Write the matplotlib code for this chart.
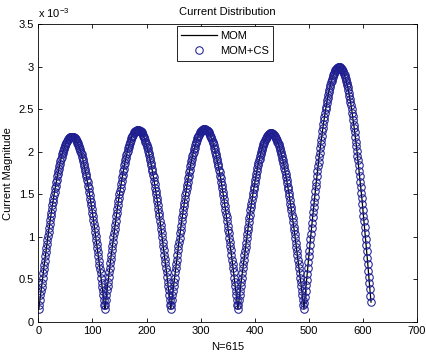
import numpy as np
import matplotlib
matplotlib.use('Agg')
import matplotlib.pyplot as plt
from matplotlib.ticker import FormatStrFormatter

plt.rcParams['font.family'] = ['Liberation Sans', 'DejaVu Sans']
plt.rcParams['mathtext.fontset'] = 'custom'
plt.rcParams['mathtext.rm'] = 'Liberation Sans'

# current magnitude (x 1e-3) per segment
arch1 = [0.15, 0.20, 0.25, 0.31, 0.36, 0.41, 0.46, 0.51, 0.57, 0.62,
         0.67, 0.72, 0.77, 0.82, 0.87, 0.91, 0.96, 1.01, 1.06, 1.10,
         1.15, 1.20, 1.24, 1.28, 1.33, 1.37, 1.41, 1.45, 1.49, 1.53,
         1.57, 1.60, 1.64, 1.67, 1.71, 1.74, 1.77, 1.80, 1.83, 1.86,
         1.89, 1.92, 1.94, 1.97, 1.99, 2.01, 2.03, 2.05, 2.07, 2.08,
         2.10, 2.11, 2.13, 2.14, 2.15, 2.16, 2.16, 2.17, 2.17, 2.18,
         2.18, 2.18,
         2.18, 2.18, 2.17, 2.17, 2.16, 2.16, 2.15, 2.14, 2.13, 2.11,
         2.10, 2.08, 2.07, 2.05, 2.03, 2.01, 1.99, 1.97, 1.94, 1.92,
         1.89, 1.86, 1.83, 1.80, 1.77, 1.74, 1.71, 1.67, 1.64, 1.60,
         1.57, 1.53, 1.49, 1.45, 1.41, 1.37, 1.33, 1.28, 1.24, 1.20,
         1.15, 1.10, 1.06, 1.01, 0.96, 0.91, 0.87, 0.82, 0.77, 0.72,
         0.67, 0.62, 0.57, 0.51, 0.46, 0.41, 0.36, 0.31, 0.25, 0.20]
arch2 = [0.15, 0.20, 0.26, 0.31, 0.37, 0.42, 0.47, 0.53, 0.58, 0.63,
         0.69, 0.74, 0.79, 0.84, 0.89, 0.94, 1.00, 1.04, 1.09, 1.14,
         1.19, 1.24, 1.28, 1.33, 1.37, 1.42, 1.46, 1.50, 1.54, 1.58,
         1.62, 1.66, 1.70, 1.73, 1.77, 1.80, 1.84, 1.87, 1.90, 1.93,
         1.96, 1.99, 2.01, 2.04, 2.06, 2.08, 2.10, 2.12, 2.14, 2.16,
         2.18, 2.19, 2.20, 2.22, 2.23, 2.23, 2.24, 2.25, 2.25, 2.26,
         2.26, 2.26,
         2.26, 2.26, 2.25, 2.25, 2.24, 2.23, 2.23, 2.22, 2.20, 2.19,
         2.18, 2.16, 2.14, 2.12, 2.10, 2.08, 2.06, 2.04, 2.01, 1.99,
         1.96, 1.93, 1.90, 1.87, 1.84, 1.80, 1.77, 1.73, 1.70, 1.66,
         1.62, 1.58, 1.54, 1.50, 1.46, 1.42, 1.37, 1.33, 1.28, 1.24,
         1.19, 1.14, 1.09, 1.04, 1.00, 0.94, 0.89, 0.84, 0.79, 0.74,
         0.69, 0.63, 0.58, 0.53, 0.47, 0.42, 0.37, 0.31, 0.26, 0.20]
arch3 = [0.15, 0.20, 0.26, 0.31, 0.36, 0.42, 0.47, 0.52, 0.58, 0.63,
         0.68, 0.73, 0.78, 0.84, 0.89, 0.94, 0.99, 1.04, 1.08, 1.13,
         1.18, 1.23, 1.27, 1.32, 1.36, 1.40, 1.45, 1.49, 1.53, 1.57,
         1.61, 1.65, 1.69, 1.72, 1.76, 1.79, 1.83, 1.86, 1.89, 1.92,
         1.95, 1.98, 2.00, 2.03, 2.05, 2.08, 2.10, 2.12, 2.14, 2.16,
         2.17, 2.19, 2.20, 2.22, 2.23, 2.24, 2.25, 2.25, 2.26, 2.26,
         2.27, 2.27, 2.27,
         2.27, 2.27, 2.26, 2.26, 2.25, 2.25, 2.24, 2.23, 2.22, 2.20,
         2.19, 2.17, 2.16, 2.14, 2.12, 2.10, 2.08, 2.05, 2.03, 2.00,
         1.98, 1.95, 1.92, 1.89, 1.86, 1.83, 1.79, 1.76, 1.72, 1.69,
         1.65, 1.61, 1.57, 1.53, 1.49, 1.45, 1.40, 1.36, 1.32, 1.27,
         1.23, 1.18, 1.13, 1.08, 1.04, 0.99, 0.94, 0.89, 0.84, 0.78,
         0.73, 0.68, 0.63, 0.58, 0.52, 0.47, 0.42, 0.36, 0.31, 0.26,
         0.20]
arch4 = [0.15, 0.20, 0.26, 0.31, 0.36, 0.42, 0.47, 0.52, 0.57, 0.63,
         0.68, 0.73, 0.78, 0.83, 0.88, 0.93, 0.98, 1.03, 1.08, 1.12,
         1.17, 1.22, 1.26, 1.31, 1.35, 1.39, 1.43, 1.48, 1.52, 1.56,
         1.59, 1.63, 1.67, 1.70, 1.74, 1.77, 1.81, 1.84, 1.87, 1.90,
         1.92, 1.95, 1.98, 2.00, 2.02, 2.05, 2.07, 2.09, 2.11, 2.12,
         2.14, 2.15, 2.16, 2.18, 2.19, 2.20, 2.20, 2.21, 2.21, 2.22,
         2.22, 2.22,
         2.22, 2.22, 2.21, 2.21, 2.20, 2.20, 2.19, 2.18, 2.16, 2.15,
         2.14, 2.12, 2.11, 2.09, 2.07, 2.05, 2.02, 2.00, 1.98, 1.95,
         1.92, 1.90, 1.87, 1.84, 1.81, 1.77, 1.74, 1.70, 1.67, 1.63,
         1.59, 1.56, 1.52, 1.48, 1.43, 1.39, 1.35, 1.31, 1.26, 1.22,
         1.17, 1.12, 1.08, 1.03, 0.98, 0.93, 0.88, 0.83, 0.78, 0.73,
         0.68, 0.63, 0.57, 0.52, 0.47, 0.42, 0.36, 0.31, 0.26, 0.20]
arch5_rise = [0.15, 0.22, 0.29, 0.36, 0.43, 0.49, 0.56, 0.63, 0.70, 0.77,
              0.83, 0.90, 0.97, 1.03, 1.10, 1.16, 1.23, 1.29, 1.35, 1.41,
              1.47, 1.54, 1.60, 1.65, 1.71, 1.77, 1.83, 1.88, 1.94, 1.99,
              2.04, 2.09, 2.14, 2.19, 2.24, 2.28, 2.33, 2.37, 2.41, 2.46,
              2.50, 2.53, 2.57, 2.61, 2.64, 2.67, 2.71, 2.73, 2.76, 2.79,
              2.82, 2.84, 2.86, 2.88, 2.90, 2.92, 2.93, 2.95, 2.96, 2.97,
              2.98, 2.99, 2.99, 3.00, 3.00, 3.00]
arch5_fall = [3.00, 3.00, 2.99, 2.98, 2.98, 2.97, 2.95, 2.94, 2.92, 2.90,
              2.88, 2.86, 2.84, 2.81, 2.79, 2.76, 2.73, 2.69, 2.66, 2.62,
              2.59, 2.55, 2.51, 2.46, 2.42, 2.37, 2.32, 2.28, 2.23, 2.17,
              2.12, 2.07, 2.01, 1.95, 1.90, 1.84, 1.78, 1.71, 1.65, 1.59,
              1.52, 1.46, 1.39, 1.32, 1.25, 1.18, 1.11, 1.04, 0.97, 0.90,
              0.83, 0.75, 0.68, 0.60, 0.53, 0.45, 0.38, 0.30, 0.23]

current = np.array(arch1 + arch2 + arch3 + arch4 + arch5_rise + arch5_fall)
n = np.arange(1, len(current) + 1)   # segment index, N=615

fig = plt.figure(figsize=(4.26, 3.52), dpi=100)
ax = fig.add_axes([0.0899, 0.0861, 0.889, 0.8443])

ax.plot(n, current, color='black', linewidth=0.9, label='MOM')
ax.plot(n, current, 'o', markersize=5.4, markerfacecolor='none', markeredgecolor='#1f1f92',
        markeredgewidth=0.75, label='MOM+CS')

ax.set_xlim(0, 700)
ax.set_ylim(0, 3.5)
ax.set_xticks(np.arange(0, 701, 100))
ax.set_yticks(np.arange(0, 3.51, 0.5))
ax.yaxis.set_major_formatter(FormatStrFormatter('%g'))
ax.tick_params(direction='in', length=3, width=0.6, labelsize=8, top=True, right=True, pad=3)
for s in ax.spines.values():
    s.set_linewidth(0.6)

ax.set_title('Current Distribution', fontsize=8, pad=6.5)
ax.set_xlabel('N=615', fontsize=8)
ax.set_ylabel('Current Magnitude', fontsize=8)
ax.xaxis.set_label_coords(0.5, -0.068)
ax.yaxis.set_label_coords(-0.066, 0.5)
ax.text(0.0, 1.023, r'x 10$^{-3}$', transform=ax.transAxes, fontsize=8, ha='left', va='baseline')

leg = ax.legend(loc='upper left', bbox_to_anchor=(0.365, 0.994), fontsize=8, fancybox=False,
                edgecolor='black', framealpha=1, handlelength=3.2, handletextpad=0.3,
                borderpad=0.4, labelspacing=0.5, borderaxespad=0, numpoints=1)
leg.get_frame().set_linewidth(0.6)

fig.savefig('out.png', dpi=100)
